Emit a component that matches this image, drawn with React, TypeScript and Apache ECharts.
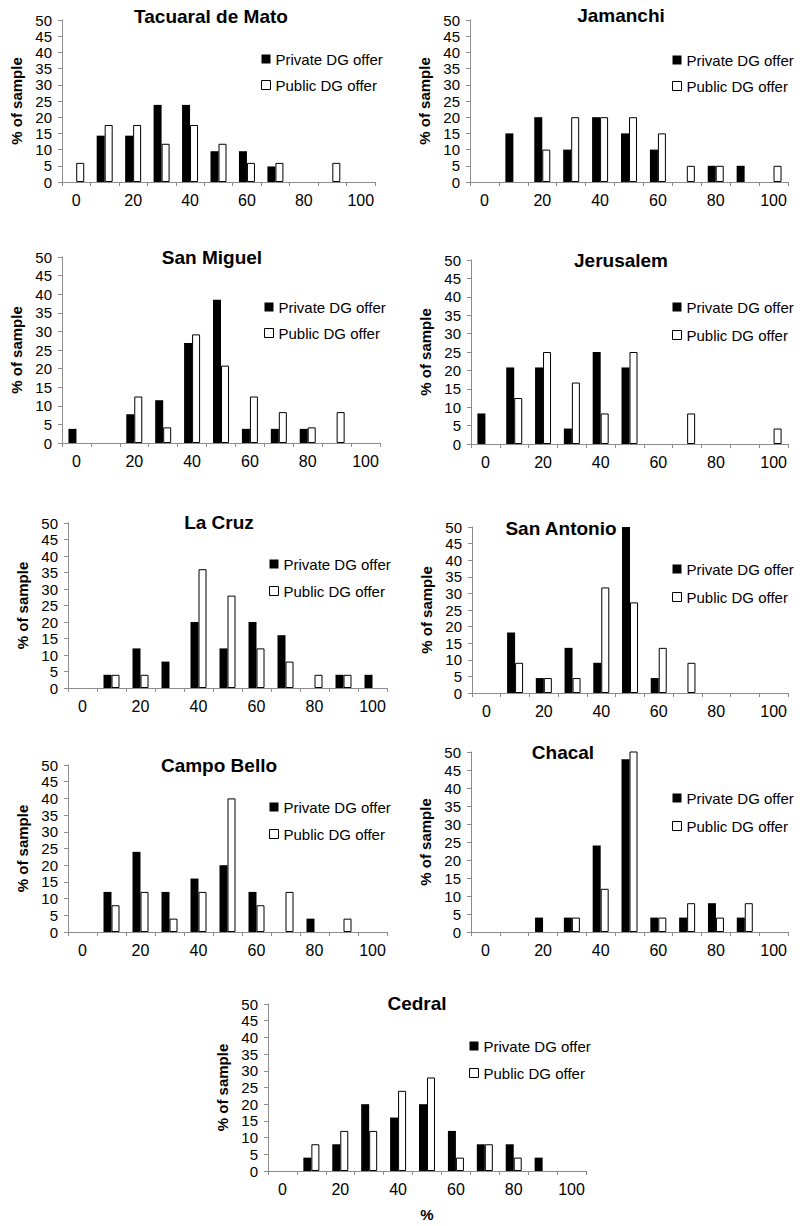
import React, { useEffect, useRef } from "react";
import * as echarts from "echarts";

const categories = ["0", "10", "20", "30", "40", "50", "60", "70", "80", "90", "100"];

const panelNames = [
  "Tacuaral de Mato",
  "Jamanchi",
  "San Miguel",
  "Jerusalem",
  "La Cruz",
  "San Antonio",
  "Campo Bello",
  "Chacal",
  "Cedral",
];

const privateTacuaral = [null, 14.3, 14.3, 23.8, 23.8, 9.5, 9.5, 4.8, null, null, null];
const publicTacuaral = [5.9, 17.6, 17.6, 11.8, 17.6, 11.8, 5.9, 5.9, null, 5.9, null];
const privateJamanchi = [null, 15, 20, 10, 20, 15, 10, null, 5, 5, null];
const publicJamanchi = [null, null, 10, 20, 20, 20, 15, 5, 5, null, 5];
const privateSanMiguel = [3.8, null, 7.7, 11.5, 26.9, 38.5, 3.8, 3.8, 3.8, null, null];
const publicSanMiguel = [null, null, 12.5, 4.2, 29.2, 20.8, 12.5, 8.3, 4.2, 8.3, null];
const privateJerusalem = [8.3, 20.8, 20.8, 4.2, 25, 20.8, null, null, null, null, null];
const publicJerusalem = [null, 12.5, 25, 16.7, 8.3, 25, null, 8.3, null, null, 4.2];
const privateLaCruz = [null, 4, 12, 8, 20, 12, 20, 16, null, 4, 4];
const publicLaCruz = [null, 4, 4, null, 36, 28, 12, 8, 4, 4, null];
const privateSanAntonio = [null, 18.2, 4.5, 13.6, 9.1, 50, 4.5, null, null, null, null];
const publicSanAntonio = [null, 9.1, 4.5, 4.5, 31.8, 27.3, 13.6, 9.1, null, null, null];
const privateCampoBello = [null, 12, 24, 12, 16, 20, 12, null, 4, null, null];
const publicCampoBello = [null, 8, 12, 4, 12, 40, 8, 12, null, 4, null];
const privateChacal = [null, null, 4, 4, 24, 48, 4, 4, 8, 4, null];
const publicChacal = [null, null, null, 4, 12, 60, 4, 8, 4, 8, null];
const privateCedral = [null, 4, 8, 20, 16, 20, 12, 8, 8, 4, null];
const publicCedral = [null, 8, 12, 12, 24, 28, 4, 8, 4, null, null];

const privateSeries = [
  privateTacuaral, privateJamanchi, privateSanMiguel, privateJerusalem, privateLaCruz,
  privateSanAntonio, privateCampoBello, privateChacal, privateCedral,
];
const publicSeries = [
  publicTacuaral, publicJamanchi, publicSanMiguel, publicJerusalem, publicLaCruz,
  publicSanAntonio, publicCampoBello, publicChacal, publicCedral,
];

const yTicks = { min: 0, max: 50, interval: 5 };
const PRIVATE = "Private DG offer";
const PUBLIC = "Public DG offer";

// layout: grid [left, top, width, height], title center [x, y], legend [textStartX, row1CenterY, rowSpacing]
const layout = [
  { grid: [62, 20, 313, 162], title: [211, 16], legend: [275, 59, 26] },
  { grid: [470, 20, 318, 162], title: [621, 15], legend: [686, 60, 26] },
  { grid: [62, 257, 318, 186], title: [212, 257], legend: [278, 307, 26] },
  { grid: [471, 260, 317, 184], title: [621, 260], legend: [686, 307, 28] },
  { grid: [68, 523, 319, 165], title: [219, 522], legend: [283, 564, 27] },
  { grid: [472, 527, 316, 166], title: [561, 528], legend: [686, 569, 28] },
  { grid: [68, 765, 319, 167], title: [219, 765], legend: [283, 807, 27] },
  { grid: [471, 752, 317, 180], title: [563, 752], legend: [686, 798, 28] },
  { grid: [268, 1004, 318, 167], title: [417, 1003], legend: [483, 1046, 27] },
];

const FONT = "'Liberation Sans', Arial, Helvetica, sans-serif";
const AXIS_GREY = "#8c8c8c";

export default function App() {
  const ref = useRef<HTMLDivElement>(null);

  useEffect(() => {
    if (!ref.current) return;
    const chart = echarts.init(ref.current, undefined, { renderer: "svg" });

    const grids: any[] = [];
    const xAxes: any[] = [];
    const yAxes: any[] = [];
    const series: any[] = [];
    const legends: any[] = [];
    const graphics: any[] = [];

    layout.forEach((l, i) => {
      const [left, top, width, height] = l.grid;
      grids.push({ left, top, width, height, containLabel: false });
      const isLast = i === layout.length - 1;
      xAxes.push({
        type: "category",
        gridIndex: i,
        data: categories,
        boundaryGap: true,
        axisLine: { show: true, lineStyle: { color: AXIS_GREY, width: 1 } },
        axisTick: { show: true, interval: 0, length: 4, alignWithLabel: false, lineStyle: { color: AXIS_GREY } },
        axisLabel: { interval: 1, margin: 10, color: "#000", fontSize: 16, fontFamily: FONT },
        splitLine: { show: false },
        name: isLast ? "%" : "",
        nameLocation: "middle",
        nameGap: 36,
        nameTextStyle: { color: "#000", fontSize: 15, fontWeight: "bold", fontFamily: FONT },
      });
      yAxes.push({
        type: "value",
        gridIndex: i,
        min: yTicks.min,
        max: yTicks.max,
        interval: yTicks.interval,
        axisLine: { show: true, lineStyle: { color: AXIS_GREY, width: 1 } },
        axisTick: { show: true, length: 4, lineStyle: { color: AXIS_GREY } },
        axisLabel: { margin: 10, color: "#000", fontSize: 15, fontFamily: FONT },
        splitLine: { show: false },
        name: "% of sample",
        nameLocation: "middle",
        nameRotate: 90,
        nameGap: 38,
        nameTextStyle: { color: "#000", fontSize: 15, fontWeight: "bold", fontFamily: FONT },
      });
      series.push({
        type: "bar",
        name: PRIVATE,
        xAxisIndex: i,
        yAxisIndex: i,
        data: privateSeries[i],
        barWidth: 8,
        barGap: "0%",
        clip: true,
        itemStyle: { color: "#000", borderColor: "#000", borderWidth: 0 },
        emphasis: { disabled: true },
      });
      series.push({
        type: "bar",
        name: PUBLIC,
        xAxisIndex: i,
        yAxisIndex: i,
        data: publicSeries[i],
        barWidth: 8,
        barGap: "0%",
        clip: true,
        itemStyle: { color: "#fff", borderColor: "#000", borderWidth: 1 },
        emphasis: { disabled: true },
      });
      const [textX, rowY, spacing] = l.legend;
      legends.push({
        orient: "vertical",
        left: textX - 14,
        top: rowY - 8,
        padding: 0,
        itemWidth: 9,
        itemHeight: 9,
        itemGap: spacing - 16,
        selectedMode: false,
        textStyle: { color: "#000", fontSize: 15, fontFamily: FONT, lineHeight: 16 },
        data: [
          { name: PRIVATE, icon: "rect", itemStyle: { color: "#000", borderColor: "#000", borderWidth: 0 } },
          { name: PUBLIC, icon: "rect", itemStyle: { color: "#fff", borderColor: "#000", borderWidth: 1 } },
        ],
      });
      graphics.push({
        type: "text",
        x: l.title[0],
        y: l.title[1],
        style: {
          text: panelNames[i],
          font: `bold 19px ${FONT}`,
          fill: "#000",
          align: "center",
          verticalAlign: "middle",
          textAlign: "center",
          textVerticalAlign: "middle",
        },
      });
    });

    chart.setOption({
      animation: false,
      backgroundColor: "#fff",
      grid: grids,
      xAxis: xAxes,
      yAxis: yAxes,
      series,
      legend: legends,
      graphic: graphics,
    });

    return () => {
      chart.dispose();
    };
  }, []);

  return (
    <div
      ref={ref}
      style={{ position: "absolute", left: 0, top: 0, width: 800, height: 1226, background: "#fff" }}
    />
  );
}
